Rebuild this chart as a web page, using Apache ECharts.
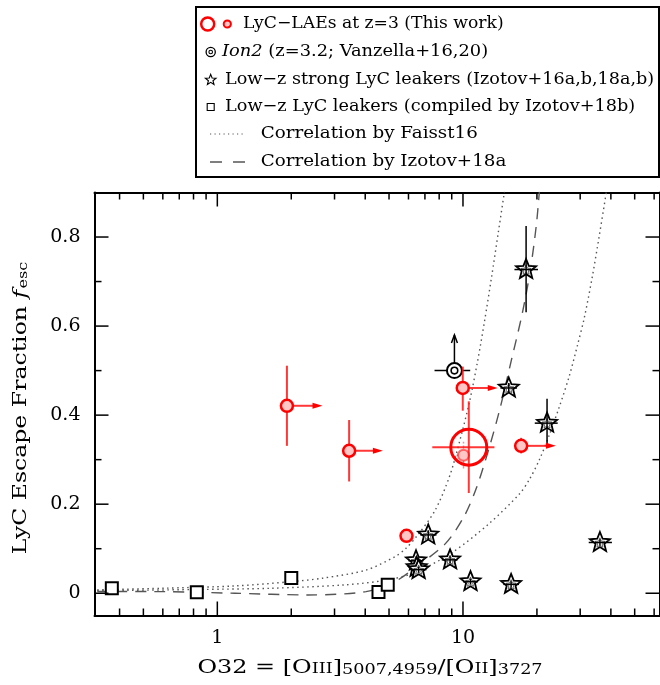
<!DOCTYPE html>
<html><head><meta charset="utf-8">
<script src="https://cdn.jsdelivr.net/npm/echarts@6/dist/echarts.min.js"></script>
<style>html,body{margin:0;padding:0;background:#fff}#c{width:660px;height:685px}</style>
</head><body><div id="c"></div>
<script>
// ---------------- data ----------------
const xMajorTicks = [1, 10];
const xTickLabels = ['1', '10'];
const xMinorTicks = [0.4, 0.5, 0.6, 0.7, 0.8, 0.9, 2, 3, 4, 5, 6, 7, 8, 9, 20, 30, 40, 50, 60];
const yMajorTicks = [0, 0.2, 0.4, 0.6, 0.8];
const yTickLabels = ['0', '0.2', '0.4', '0.6', '0.8'];
const yMinorTicks = [0.1, 0.3, 0.5, 0.7];

// LyC-LAEs at z=3 (this work), individual
const laeX = [1.92, 3.44, 9.98, 17.25, 5.89];
const laeY = [0.421, 0.320, 0.461, 0.331, 0.129];
const laeYLo = [0.331, 0.251, 0.410, 0.314, 0.116];
const laeYHi = [0.511, 0.389, 0.509, 0.349, 0.142];
const laeXLimitTo = [2.68, 4.72, 13.85, 23.9, null];

// stacked LyC-LAE (large circle)
const stackX = [10.56];
const stackY = [0.328];
const stackXLo = [7.50];
const stackXHi = [13.43];
const stackYLo = [0.225];
const stackYHi = [0.431];

// faint point inside the large circle
const subX = [10.05];
const subY = [0.310];
const subXLo = [9.41];
const subXHi = [10.73];
const subYLo = [0.28];
const subYHi = [0.34];

// Ion2
const ion2X = [9.23];
const ion2Y = [0.50];
const ion2XLo = [7.66];
const ion2XHi = [10.7];
const ion2YLimitTo = [0.58];

// Low-z strong LyC leakers (stars)
const starX = [18.07, 15.36, 21.99, 7.22, 6.44, 6.48, 6.60, 8.86, 10.73, 15.7, 36.1];
const starY = [0.727, 0.461, 0.382, 0.131, 0.073, 0.058, 0.053, 0.075, 0.026, 0.020, 0.114];
const starXLo = [16.2, 14.2, 19.6, 6.7, 6.0, 6.0, 6.1, 8.2, 10.0, 14.6, 32.5];
const starXHi = [20.2, 16.6, 24.3, 7.8, 6.9, 7.0, 7.1, 9.5, 11.5, 16.9, 40.4];
const starYLo = [0.631, 0.45, 0.335, 0.121, 0.065, 0.05, 0.046, 0.067, 0.02, 0.013, 0.107];
const starYHi = [0.825, 0.472, 0.437, 0.141, 0.08, 0.066, 0.06, 0.083, 0.033, 0.027, 0.121];

// Low-z LyC leakers (squares)
const sqX = [0.372, 0.825, 2.0, 4.53, 4.94];
const sqY = [0.011, 0.002, 0.034, 0.003, 0.019];

// Correlation by Faisst16 (two dotted curves)
const faisstAX = [0.3246, 0.599, 1.18, 2.0, 2.674, 4.03, 5.28, 5.84, 6.48, 7.68, 8.81, 9.68, 10.63, 11.46, 12.23, 13.06, 13.94, 14.75];
const faisstAY = [0.0074, 0.0112, 0.0164, 0.026, 0.0337, 0.052, 0.082, 0.1000, 0.128, 0.185, 0.262, 0.340, 0.430, 0.520, 0.610, 0.7085, 0.812, 0.902];
const faisstBX = [0.3246, 0.426, 0.849, 1.663, 3.283, 4.94, 6.48, 9.11, 12.81, 16.97, 18.60, 20.46, 22.47, 24.68, 27.10, 29.21, 31.18, 33.61, 35.88, 38.31];
const faisstBY = [0.0063, 0.0065, 0.0085, 0.0112, 0.0187, 0.030, 0.048, 0.0928, 0.157, 0.223, 0.2546, 0.2996, 0.3557, 0.4187, 0.4883, 0.5557, 0.6187, 0.7108, 0.8029, 0.8999];
// Correlation by Izotov+18a (dashed)
const izoX = [0.3246, 0.599, 1.18, 2.335, 4.03, 5.28, 6.48, 8.50, 10.09, 11.32, 12.82, 14.21, 15.75, 17.46, 18.81, 19.90, 20.46];
const izoY = [0.004, 0.0036, 0.0, -0.0038, 0.0036, 0.026, 0.060, 0.112, 0.172, 0.235, 0.329, 0.419, 0.524, 0.630, 0.7265, 0.828, 0.902];

// ---------------- chart ----------------
const X_MIN = Math.pow(10, -0.5), X_MAX = Math.pow(10, 1.8), Y_MIN = -0.05, Y_MAX = 0.9;
const SERIF = "'DejaVu Serif', serif";
const RED = '#ff0000', PINK = '#ffc6c6', ERR_RED = 'rgba(255,20,20,0.85)';

const zip = (a, b) => a.map((v, i) => [v, b[i]]);

function starPts(cx, cy, R, r) {
  const p = [];
  for (let k = 0; k < 10; k++) {
    const a = -Math.PI / 2 + k * Math.PI / 5;
    const rad = k % 2 ? r : R;
    p.push([cx + rad * Math.cos(a), cy + rad * Math.sin(a)]);
  }
  return p;
}
function ln(x1, y1, x2, y2, stroke, w, dash) {
  const st = { stroke: stroke, lineWidth: w };
  if (dash) st.lineDash = dash;
  return { type: 'line', shape: { x1, y1, x2, y2 }, style: st };
}

const chart = echarts.init(document.getElementById('c'), null, { renderer: 'canvas' });

const axisCommon = { axisTick: { show: false }, axisLabel: { show: false }, splitLine: { show: false },
  axisLine: { show: true, onZero: false, lineStyle: { color: '#000', width: 2 } } };

const curveLine = (xs, ys, type) => ({ type: 'line', data: zip(xs, ys), showSymbol: false, symbol: 'none', smooth: 0.3,
  lineStyle: { color: '#555', width: 1.4, type: type }, z: 1 });

const legendText = (x, y, sx, style) => ({ type: 'text', x: x, y: y, scaleX: sx, z: 101,
  style: Object.assign({ fill: '#000', align: 'left', verticalAlign: 'middle', font: '17px ' + SERIF }, style) });

const option = {
  animation: false,
  backgroundColor: '#fff',
  grid: { left: 94.5, top: 192.5, width: 565, height: 423 },
  xAxis: [
    Object.assign({ type: 'log', logBase: 10, min: X_MIN, max: X_MAX, position: 'bottom' }, axisCommon),
    Object.assign({ type: 'log', logBase: 10, min: X_MIN, max: X_MAX, position: 'top' }, axisCommon)
  ],
  yAxis: [
    Object.assign({ type: 'value', min: Y_MIN, max: Y_MAX, position: 'left' }, axisCommon),
    Object.assign({ type: 'value', min: Y_MIN, max: Y_MAX, position: 'right' }, axisCommon)
  ],
  series: [
    // curves
    curveLine(faisstAX, faisstAY, [1.5, 3.5]),
    curveLine(faisstBX, faisstBY, [1.5, 3.5]),
    curveLine(izoX, izoY, [11, 8]),
    // squares
    { type: 'scatter', data: zip(sqX, sqY), symbol: 'rect', symbolSize: 12,
      itemStyle: { color: '#fff', borderColor: '#000', borderWidth: 2, opacity: 1 }, z: 3 },
    // stars with error bars
    { type: 'custom', z: 4,
      data: starX.map((x, i) => [x, starY[i], starXLo[i], starXHi[i], starYLo[i], starYHi[i]]),
      encode: { x: 0, y: 1 },
      renderItem: function (params, api) {
        const c = api.coord([api.value(0), api.value(1)]);
        const xl = api.coord([api.value(2), api.value(1)]), xh = api.coord([api.value(3), api.value(1)]);
        const yl = api.coord([api.value(0), api.value(4)]), yh = api.coord([api.value(0), api.value(5)]);
        return { type: 'group', children: [
          { type: 'polygon', shape: { points: starPts(c[0], c[1], 10.5, 4.6) }, style: { fill: '#fff', stroke: '#000', lineWidth: 1.8 } },
          { type: 'polygon', shape: { points: starPts(c[0], c[1] + 0.5, 5.2, 2.3) }, style: { fill: 'none', stroke: '#444', lineWidth: 0.8 } },
          ln(xl[0], c[1], xh[0], c[1], '#000', 1.5),
          ln(c[0], yl[1], c[0], yh[1], '#000', 1.5)
        ] };
      } },
    // Ion2
    { type: 'custom', z: 5,
      data: ion2X.map((x, i) => [x, ion2Y[i], ion2XLo[i], ion2XHi[i], ion2YLimitTo[i]]),
      encode: { x: 0, y: 1 },
      renderItem: function (params, api) {
        const c = api.coord([api.value(0), api.value(1)]);
        const xl = api.coord([api.value(2), api.value(1)]), xh = api.coord([api.value(3), api.value(1)]);
        const tip = api.coord([api.value(0), api.value(4)]);
        return { type: 'group', children: [
          ln(xl[0], c[1], xh[0], c[1], '#000', 1.5),
          ln(c[0], c[1], c[0], tip[1], '#000', 1.5),
          { type: 'polyline', shape: { points: [[c[0] - 3, tip[1] + 8], [c[0], tip[1]], [c[0] + 3, tip[1] + 8]] }, style: { stroke: '#000', lineWidth: 1.5, fill: 'none' } },
          { type: 'circle', shape: { cx: c[0], cy: c[1], r: 7.5 }, style: { fill: '#fff', stroke: '#000', lineWidth: 2 } },
          { type: 'circle', shape: { cx: c[0], cy: c[1], r: 3.3 }, style: { fill: 'none', stroke: '#000', lineWidth: 1.6 } }
        ] };
      } },
    // LAE error bars and lower-limit arrows
    { type: 'custom', z: 6,
      data: laeX.map((x, i) => [x, laeY[i], laeYLo[i], laeYHi[i], laeXLimitTo[i] == null ? NaN : laeXLimitTo[i]]),
      encode: { x: 0, y: 1 },
      renderItem: function (params, api) {
        const c = api.coord([api.value(0), api.value(1)]);
        const yl = api.coord([api.value(0), api.value(2)]), yh = api.coord([api.value(0), api.value(3)]);
        const ch = [ln(c[0], yl[1], c[0], yh[1], ERR_RED, 2)];
        const lim = api.value(4);
        if (!isNaN(lim)) {
          const t = api.coord([lim, api.value(1)]);
          ch.push(ln(c[0], c[1], t[0] - 6, c[1], ERR_RED, 2));
          ch.push({ type: 'polygon', shape: { points: [[t[0], c[1]], [t[0] - 10, c[1] - 3], [t[0] - 10, c[1] + 3]] }, style: { fill: RED } });
        }
        return { type: 'group', children: ch };
      } },
    // faint point inside stacked circle
    { type: 'custom', z: 6,
      data: subX.map((x, i) => [x, subY[i], subXLo[i], subXHi[i], subYLo[i], subYHi[i]]),
      encode: { x: 0, y: 1 },
      renderItem: function (params, api) {
        const c = api.coord([api.value(0), api.value(1)]);
        const xl = api.coord([api.value(2), api.value(1)]), xh = api.coord([api.value(3), api.value(1)]);
        const yl = api.coord([api.value(0), api.value(4)]), yh = api.coord([api.value(0), api.value(5)]);
        return { type: 'group', children: [
          ln(xl[0], c[1], xh[0], c[1], 'rgba(255,60,60,0.6)', 1.5, [3, 2]),
          ln(c[0], yl[1], c[0], yh[1], 'rgba(255,60,60,0.6)', 1.5, [3, 2]),
          { type: 'circle', shape: { cx: c[0], cy: c[1], r: 5.5 }, style: { fill: PINK, stroke: 'rgba(255,0,0,0.55)', lineWidth: 2 } }
        ] };
      } },
    // LAE points
    { type: 'scatter', data: zip(laeX, laeY), symbol: 'circle', symbolSize: 12,
      itemStyle: { color: PINK, borderColor: RED, borderWidth: 2.5, opacity: 1 }, z: 7 },
    // stacked: error bars + big circle
    { type: 'custom', z: 8,
      data: stackX.map((x, i) => [x, stackY[i], stackXLo[i], stackXHi[i], stackYLo[i], stackYHi[i]]),
      encode: { x: 0, y: 1 },
      renderItem: function (params, api) {
        const c = api.coord([api.value(0), api.value(1)]);
        const xl = api.coord([api.value(2), api.value(1)]), xh = api.coord([api.value(3), api.value(1)]);
        const yl = api.coord([api.value(0), api.value(4)]), yh = api.coord([api.value(0), api.value(5)]);
        return { type: 'group', children: [
          ln(xl[0], c[1], xh[0], c[1], ERR_RED, 2),
          ln(c[0], yl[1], c[0], yh[1], ERR_RED, 2),
          { type: 'circle', shape: { cx: c[0], cy: c[1], r: 18 }, style: { fill: 'none', stroke: RED, lineWidth: 3 } }
        ] };
      } },
    // x ticks (bottom and top)
    { type: 'custom', z: 10, silent: true,
      data: xMajorTicks.map(v => [v, 14]).concat(xMinorTicks.map(v => [v, 7])),
      encode: { x: 0 },
      renderItem: function (params, api) {
        const v = api.value(0), len = api.value(1);
        const b = api.coord([v, Y_MIN]), t = api.coord([v, Y_MAX]);
        return { type: 'group', children: [ln(b[0], b[1], b[0], b[1] - len, '#000', 1.5), ln(t[0], t[1], t[0], t[1] + len, '#000', 1.5)] };
      } },
    // y ticks (left and right)
    { type: 'custom', z: 10, silent: true,
      data: yMajorTicks.map(v => [X_MIN, v, 14]).concat(yMinorTicks.map(v => [X_MIN, v, 7])),
      encode: { x: 0, y: 1 },
      renderItem: function (params, api) {
        const v = api.value(1), len = api.value(2);
        const l = api.coord([X_MIN, v]), r = api.coord([X_MAX, v]);
        return { type: 'group', children: [ln(l[0], l[1], l[0] + len, l[1], '#000', 1.5), ln(r[0], r[1], r[0] - len, r[1], '#000', 1.5)] };
      } },
    // x tick labels
    { type: 'custom', z: 10, silent: true,
      data: xMajorTicks.map((v, i) => [v, i]),
      encode: { x: 0 },
      renderItem: function (params, api) {
        const b = api.coord([api.value(0), Y_MIN]);
        return { type: 'text', style: { x: b[0], y: b[1] + 23, text: xTickLabels[api.value(1)], font: '19px ' + SERIF, fill: '#000', align: 'center', verticalAlign: 'middle' } };
      } },
    // y tick labels
    { type: 'custom', z: 10, silent: true,
      data: yMajorTicks.map((v, i) => [X_MIN, v, i]),
      encode: { x: 0, y: 1 },
      renderItem: function (params, api) {
        const l = api.coord([X_MIN, api.value(1)]);
        return { type: 'text', style: { x: l[0] - 14, y: l[1], text: yTickLabels[api.value(2)], font: '19px ' + SERIF, fill: '#000', align: 'right', verticalAlign: 'middle' } };
      } }
  ],
  graphic: [
    // legend box
    { type: 'rect', shape: { x: 196, y: 7, width: 463, height: 170 }, style: { fill: '#fff', stroke: '#000', lineWidth: 2 }, z: 100 },
    { type: 'circle', shape: { cx: 207.7, cy: 24, r: 6.5 }, style: { fill: 'none', stroke: RED, lineWidth: 2.5 }, z: 101 },
    { type: 'circle', shape: { cx: 227.3, cy: 24, r: 3.6 }, style: { fill: PINK, stroke: RED, lineWidth: 2 }, z: 101 },
    { type: 'circle', shape: { cx: 210.7, cy: 52, r: 4.6 }, style: { fill: '#fff', stroke: '#000', lineWidth: 1.3 }, z: 101 },
    { type: 'circle', shape: { cx: 210.7, cy: 52, r: 1.8 }, style: { fill: 'none', stroke: '#000', lineWidth: 1.1 }, z: 101 },
    { type: 'polygon', shape: { points: starPts(210.7, 80, 5.6, 2.4) }, style: { fill: '#fff', stroke: '#000', lineWidth: 1.1 }, z: 101 },
    { type: 'rect', shape: { x: 207.2, y: 103.5, width: 7, height: 7 }, style: { fill: '#fff', stroke: '#000', lineWidth: 1.1 }, z: 101 },
    { type: 'line', shape: { x1: 210, y1: 134, x2: 246, y2: 134 }, style: { stroke: '#555', lineWidth: 1, lineDash: [1.2, 3.3] }, z: 101 },
    { type: 'line', shape: { x1: 210, y1: 162, x2: 246, y2: 162 }, style: { stroke: '#555', lineWidth: 1.3, lineDash: [12, 11] }, z: 101 },
    legendText(243, 24, 1.01, { text: 'LyC\u2212LAEs at z=3 (This work)' }),
    legendText(222, 52, 1.05, { text: '{i|Ion2}{n| (z=3.2; Vanzella+16,20)}',
      rich: { i: { font: 'italic 17px ' + SERIF }, n: { font: '17px ' + SERIF } } }),
    legendText(225, 80, 1.035, { text: 'Low\u2212z strong LyC leakers (Izotov+16a,b,18a,b)' }),
    legendText(225, 107, 1.04, { text: 'Low\u2212z LyC leakers (compiled by Izotov+18b)' }),
    legendText(260.7, 134, 1.075, { text: 'Correlation by Faisst16' }),
    legendText(260.7, 162, 1.075, { text: 'Correlation by Izotov+18a' }),
    // axis titles
    { type: 'text', x: 370, y: 668, scaleX: 1.26, z: 101, style: { text: '{m|O32 = [O}{s|III}{m|]}{b|5007,4959}{m|/[O}{s|II}{m|]}{b|3727}', fill: '#000', align: 'center', verticalAlign: 'middle',
        rich: { m: { font: '19px ' + SERIF, verticalAlign: 'bottom' }, s: { font: '14px ' + SERIF, verticalAlign: 'bottom', padding: [0, 0, 1, 0] }, b: { font: '14px ' + SERIF, verticalAlign: 'bottom' } } } },
    { type: 'text', x: 21, y: 408, rotation: Math.PI / 2, scaleX: 1.24, z: 101, style: { text: '{m|LyC Escape Fraction }{f|f}{e|esc}', fill: '#000', align: 'center', verticalAlign: 'middle',
        rich: { m: { font: '19px ' + SERIF, verticalAlign: 'bottom' }, f: { font: 'italic 19px ' + SERIF, verticalAlign: 'bottom' }, e: { font: '13px ' + SERIF, verticalAlign: 'bottom', padding: [0, 0, 0, 1] } } } }
  ]
};
chart.setOption(option);
</script>
</body></html>
